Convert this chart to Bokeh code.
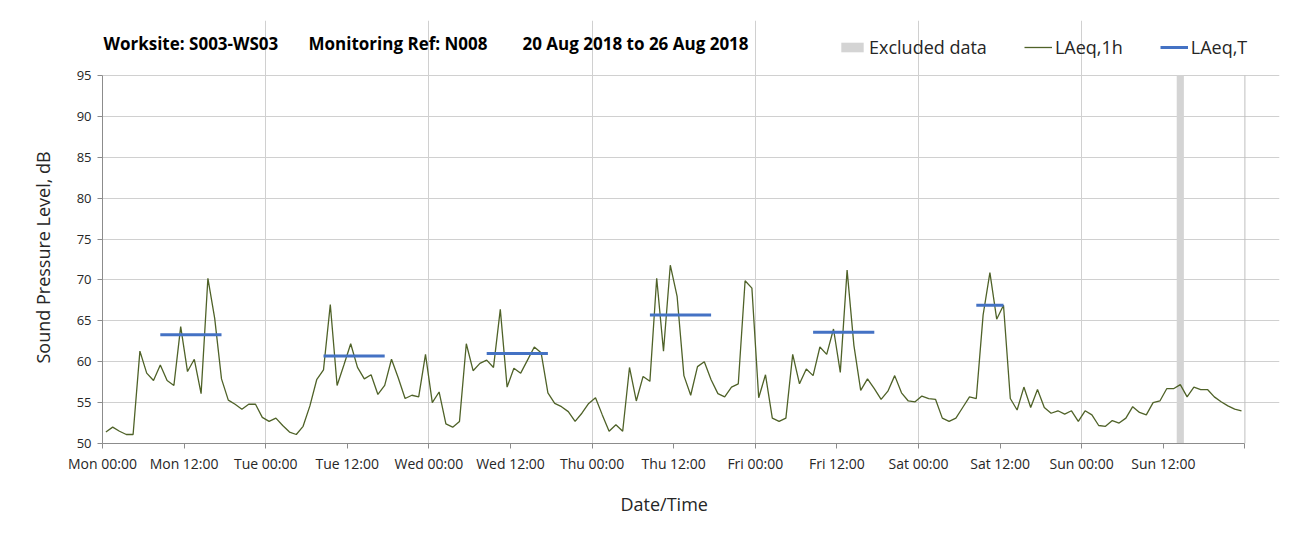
from bokeh.plotting import figure
from bokeh.models import FixedTicker, Range1d, Legend, LegendItem, Label, Title
from bokeh.embed import file_html
from bokeh.resources import INLINE

# ---------------- data ----------------
title_parts = ["Worksite: S003-WS03", "Monitoring Ref: N008", "20 Aug 2018 to 26 Aug 2018"]
x_title = "Date/Time"
y_title = "Sound Pressure Level, dB"

# hourly LAeq,1h values, Mon 00:00 .. Sun 23:00 (one per hour)
laeq_1h = [
    51.4, 52.0, 51.5, 51.1, 51.1, 61.3, 58.6, 57.7, 59.6, 57.7, 57.1, 64.3,
    58.8, 60.3, 56.1, 70.2, 65.3, 57.9, 55.3, 54.8, 54.2, 54.8, 54.8, 53.2,
    52.7, 53.1, 52.2, 51.4, 51.1, 52.1, 54.6, 57.8, 59.0, 67.0, 57.1, 59.6,
    62.2, 59.3, 57.9, 58.4, 56.0, 57.1, 60.3, 58.0, 55.5, 55.9, 55.7, 60.9,
    55.0, 56.3, 52.4, 52.0, 52.7, 62.2, 58.9, 59.8, 60.2, 59.3, 66.4, 56.9,
    59.2, 58.6, 60.2, 61.8, 61.1, 56.2, 54.9, 54.5, 53.9, 52.7, 53.7, 54.9,
    55.6, 53.5, 51.5, 52.3, 51.5, 59.3, 55.2, 58.2, 57.6, 70.2, 61.3, 71.8,
    68.0, 58.3, 55.9, 59.4, 60.0, 57.8, 56.1, 55.7, 56.9, 57.3, 69.9, 69.0,
    55.6, 58.4, 53.1, 52.7, 53.1, 60.9, 57.3, 59.1, 58.3, 61.8, 60.9, 64.0,
    58.7, 71.2, 62.0, 56.5, 57.9, 56.7, 55.4, 56.4, 58.3, 56.2, 55.2, 55.1,
    55.8, 55.5, 55.4, 53.1, 52.7, 53.1, 54.4, 55.7, 55.5, 65.7, 70.9, 65.2,
    66.9, 55.5, 54.1, 56.9, 54.4, 56.6, 54.4, 53.7, 54.0, 53.6, 54.0, 52.7,
    54.0, 53.5, 52.2, 52.1, 52.8, 52.5, 53.1, 54.5, 53.8, 53.5, 55.0, 55.2,
    56.7, 56.7, 57.2, 55.7, 56.9, 56.6, 56.6, 55.7, 55.1, 54.6, 54.2, 54.0,
]

# LAeq,T periods: first and last hour index of each period, and level
laeqT_first_hour = [8, 32, 56, 80, 104, 128]
laeqT_last_hour = [17, 41, 65, 89, 113, 132]
laeqT_values = [63.3, 60.7, 61.0, 65.7, 63.6, 66.9]

# excluded hours
excluded_hours = [158]

# x tick labels every 12 h
tick_labels = ["Mon 00:00", "Mon 12:00", "Tue 00:00", "Tue 12:00", "Wed 00:00", "Wed 12:00",
               "Thu 00:00", "Thu 12:00", "Fri 00:00", "Fri 12:00", "Sat 00:00", "Sat 12:00",
               "Sun 00:00", "Sun 12:00"]
y_ticks = [50, 55, 60, 65, 70, 75, 80, 85, 90, 95]

# ---------------- layout constants ----------------
FONT = "Open Sans"
TXT = "#262626"
GRID = "#d0d0d0"
n_hours = 24 * 7
y_min, y_max = 50, 95
# the frame is extended above/right of the data area so that the title and
# legend can live inside it; 6.8 px per hour and 8.178 px per dB
PX_H, PX_DB = 6.8, 8.178
W, H = 1299, 532
left, bottom, top, right = 102, 89, 20, 20
frame_w = W - left - right
frame_h = H - top - bottom
x_end = frame_w / PX_H
y_end = y_min + frame_h / PX_DB

p = figure(width=W, height=H, output_backend="svg", toolbar_location=None, title=None,
           x_range=Range1d(0, x_end), y_range=Range1d(y_min, y_end),
           min_border_left=left, min_border_right=right, min_border_top=top,
           min_border_bottom=bottom)

p.outline_line_color = None
p.background_fill_color = "white"
p.border_fill_color = "white"

# grid (bounded to the data area; the 95 dB line acts as the top border)
p.xgrid.ticker = FixedTicker(ticks=[24 * k for k in range(1, 7)])
p.xgrid.bounds = (y_min, y_max)
p.xgrid.grid_line_color = GRID
p.ygrid.ticker = FixedTicker(ticks=y_ticks)
p.ygrid.bounds = (0, n_hours)
p.ygrid.grid_line_color = GRID

# right border of the data area
p.segment(x0=[n_hours], y0=[y_min], x1=[n_hours], y1=[y_max],
          line_color="#bfbfbf", line_width=1)

# excluded data band
ex_r = p.vbar(x=[h + 0.5 for h in excluded_hours], width=1.05, bottom=y_min, top=y_max,
              fill_color="#d4d4d4", line_color=None)

# hourly line
hours = [i + 0.5 for i in range(len(laeq_1h))]
l1_r = p.line(hours, laeq_1h, line_color="#4f6228", line_width=1.3)

# LAeq,T segments
lt_r = p.segment(x0=[h + 0.5 for h in laeqT_first_hour], x1=[h + 0.5 for h in laeqT_last_hour],
                 y0=laeqT_values, y1=laeqT_values, line_color="#4472c4", line_width=3)

# axes
p.xaxis.ticker = FixedTicker(ticks=[12 * k for k in range(len(tick_labels))] + [n_hours])
p.xaxis.major_label_overrides = {12 * k: lab for k, lab in enumerate(tick_labels)}
p.xaxis.major_label_overrides[n_hours] = " "
p.xaxis.bounds = (0, n_hours)
p.yaxis.ticker = FixedTicker(ticks=y_ticks)
p.yaxis.bounds = (y_min, y_max)
for ax in (p.xaxis[0], p.yaxis[0]):
    ax.axis_line_color = "#8c8c8c"
    ax.major_tick_line_color = "#8c8c8c"
    ax.major_tick_out = 5
    ax.major_tick_in = 0
    ax.minor_tick_line_color = None
    ax.major_label_text_font = FONT
    ax.major_label_text_color = TXT
p.xaxis.major_label_text_font_size = "14px"
p.yaxis.major_label_text_font_size = "13px"
p.yaxis.major_label_standoff = 6

# axis titles as side-panel titles so they can be centred on the data area
p.add_layout(Title(text=y_title, align="left", offset=80, standoff=37,
                   text_font=FONT, text_font_size="18px", text_font_style="normal",
                   text_color=TXT), "left")
p.add_layout(Title(text=x_title, align="left", offset=518, standoff=28,
                   text_font=FONT, text_font_size="18px", text_font_style="normal",
                   text_color=TXT), "below")

# title texts (inside the extended frame, above the data area)
title_x_px = [1, 206, 420]   # offsets from the frame's left edge
for txt, xo in zip(title_parts, title_x_px):
    p.add_layout(Label(x=xo / PX_H, y=y_max + 32 / PX_DB, text=txt,
                       text_font=FONT, text_font_size="17px", text_font_style="bold",
                       text_color="#000000", text_baseline="middle", text_align="left"))

legend = Legend(items=[LegendItem(label="Excluded data", renderers=[ex_r]),
                       LegendItem(label="LAeq,1h", renderers=[l1_r]),
                       LegendItem(label="LAeq,T", renderers=[lt_r])],
                location=(736, 384), orientation="horizontal",
                label_text_font=FONT, label_text_font_size="18px", label_text_color=TXT,
                glyph_width=28, glyph_height=12, label_standoff=3, spacing=37,
                padding=0, margin=0, background_fill_alpha=0, border_line_alpha=0)
p.add_layout(legend, "center")

open("out.html", "w").write(file_html(p, INLINE))
